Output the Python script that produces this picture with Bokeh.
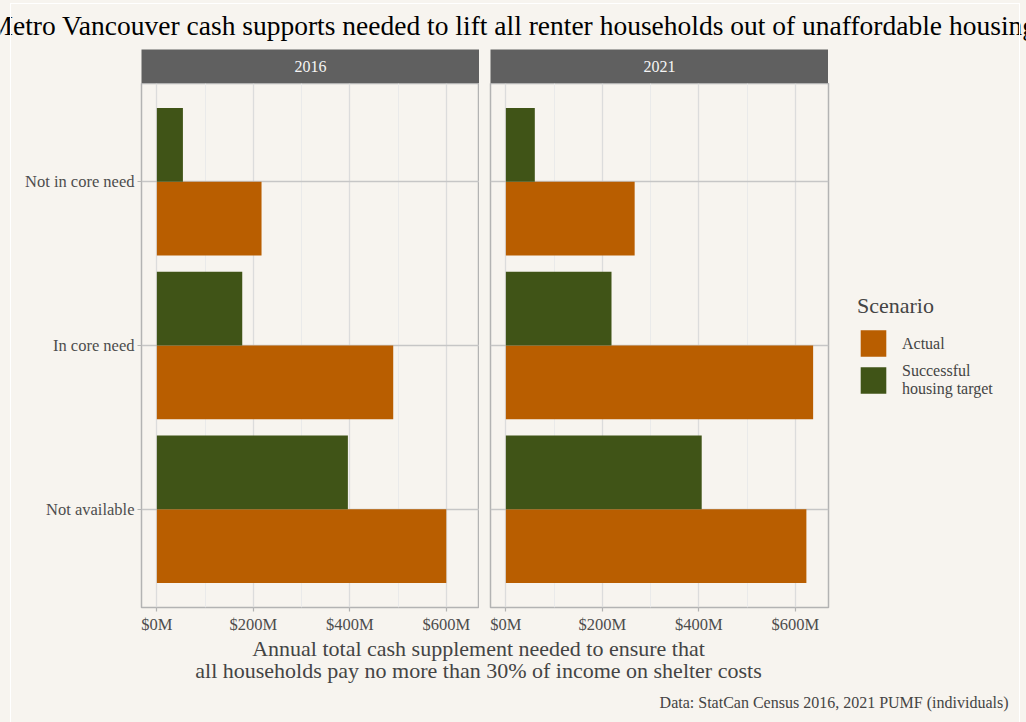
from bokeh.plotting import figure
from bokeh.models import (Range1d, FactorRange, FixedTicker, PrintfTickFormatter, Label,
                          Legend, LegendItem, Spacer, ColumnDataSource)
from bokeh.transform import dodge
from bokeh.layouts import row, column
from bokeh.embed import file_html
from bokeh.resources import INLINE

# ---------------- data ----------------
categories = ["Not available", "In core need", "Not in core need"]   # bottom -> top
years = ["2016", "2021"]
actual_2016 = [600, 490, 217]      # $M
target_2016 = [396, 177, 54]
actual_2021 = [623, 637, 267]
target_2021 = [406, 219, 60]
scenarios = ["Actual", "Successful\nhousing target"]
x_ticks = [0, 200, 400, 600]
x_minor = [100, 300, 500]

title_text = ("Metro Vancouver cash supports needed to lift all renter households "
              "out of unaffordable housing")
x_title_1 = "Annual total cash supplement needed to ensure that"
x_title_2 = "all households pay no more than 30% of income on shelter costs"
caption = "Data: StatCan Census 2016, 2021 PUMF (individuals)"

# ---------------- style ----------------
BG = "#F7F4EF"
ORANGE = "#B95E00"
GREEN = "#405417"
STRIP = "#606060"
FONT = "Liberation Serif"
TICK_GREY = "#4D4D4D"
BORDER = "#B3B3B3"

TOTAL_W = 1026
LEFT = 141
GAP = 11
FRAME_W = 338
FRAME_H = 524
BOTTOM_AX = 26

xmax = max(actual_2016 + target_2016 + actual_2021 + target_2021)
x_lo, x_hi = -0.05 * xmax, 1.05 * xmax


def blank(width, height, xr, yr):
    f = figure(width=width, height=height, x_range=Range1d(*xr), y_range=Range1d(*yr),
               x_axis_type=None, y_axis_type=None, toolbar_location=None,
               output_backend="svg", min_border=0)
    f.grid.visible = False
    f.outline_line_color = None
    f.border_fill_color = BG
    f.background_fill_color = BG
    return f


def panel(actual, target, left_border, show_y):
    src = ColumnDataSource(dict(cat=categories, actual=actual, target=target))
    p = figure(frame_width=FRAME_W, frame_height=FRAME_H, y_range=FactorRange(*categories),
               x_range=Range1d(x_lo, x_hi), toolbar_location=None, output_backend="svg",
               min_border_left=left_border, min_border_right=0,
               min_border_top=0, min_border_bottom=BOTTOM_AX)
    p.y_range.range_padding = 0.1
    p.y_range.range_padding_units = "absolute"
    p.background_fill_color = BG
    p.border_fill_color = BG
    p.outline_line_color = BORDER
    p.outline_line_width = 1.5

    ra = p.hbar(y=dodge("cat", -0.225, range=p.y_range), left=0, right="actual",
                height=0.45, source=src, fill_color=ORANGE, line_color=None)
    rt = p.hbar(y=dodge("cat", 0.225, range=p.y_range), left=0, right="target",
                height=0.45, source=src, fill_color=GREEN, line_color=None)

    xa = p.xaxis[0]
    xa.ticker = FixedTicker(ticks=x_ticks, minor_ticks=x_minor)
    xa.formatter = PrintfTickFormatter(format="$%dM")
    ya = p.yaxis[0]
    for ax in (xa, ya):
        ax.axis_line_color = None
        ax.major_tick_line_color = BORDER
        ax.major_tick_line_width = 1.2
        ax.major_tick_out = 4
        ax.major_tick_in = 0
        ax.minor_tick_line_color = None
        ax.major_label_text_font = FONT
        ax.major_label_text_font_size = "16.5px"
        ax.major_label_text_color = TICK_GREY
    xa.major_label_standoff = 3
    ya.major_label_standoff = 3
    if not show_y:
        ya.visible = False

    p.xgrid.grid_line_color = "#DCDCDC"
    p.xgrid.grid_line_width = 1.3
    p.xgrid.minor_grid_line_color = "#EAEAEA"
    p.xgrid.minor_grid_line_width = 1.0
    p.ygrid.grid_line_color = "#C6C6C6"
    p.ygrid.grid_line_width = 1.3
    return p, ra, rt


# title
T_H = 49
t_fig = blank(TOTAL_W, T_H, (0, TOTAL_W), (0, T_H))
t_fig.add_layout(Label(x=512, y=24, text=title_text, text_align="center",
                       text_baseline="alphabetic", text_font=FONT,
                       text_font_size="27.5px", text_color="black"))

# strips
S_H = 34
def strip(width, left, label):
    s = blank(width, S_H, (0, 1), (0, 1))
    s.min_border_left = left
    s.background_fill_color = STRIP
    s.add_layout(Label(x=0.5, y=0.5, text=label, text_align="center", text_baseline="middle",
                       text_font=FONT, text_font_size="16px", text_color="#F5F5F5"))
    return s

s1 = strip(LEFT + FRAME_W, LEFT, years[0])
s2 = strip(GAP + FRAME_W, GAP, years[1])
strip_row = row(s1, s2, Spacer(width=TOTAL_W - (LEFT + FRAME_W) - (GAP + FRAME_W), height=S_H))

# panels
p1, _, _ = panel(actual_2016, target_2016, LEFT, True)
p2, ra2, rt2 = panel(actual_2021, target_2021, GAP, False)

legend = Legend(items=[LegendItem(label=scenarios[0], renderers=[ra2]),
                       LegendItem(label=scenarios[1], renderers=[rt2])],
                title="Scenario", location="center_left")
legend.title_text_font = FONT
legend.title_text_font_size = "22px"
legend.title_text_font_style = "normal"
legend.title_standoff = 8
legend.label_text_font = FONT
legend.label_text_font_size = "16px"
legend.label_text_line_height = 1.05
legend.glyph_width = 32
legend.glyph_height = 33
legend.label_standoff = 13
legend.spacing = 2
legend.padding = 10
legend.margin = 29
legend.border_line_color = None
legend.background_fill_alpha = 0
p2.add_layout(legend, "right")

panel_row = row(p1, p2)

# bottom texts
B_H = 722 - T_H - S_H - (FRAME_H + BOTTOM_AX)
top_off = 637 - (T_H + S_H + FRAME_H + BOTTOM_AX)   # keep same page positions
b_fig = blank(TOTAL_W, B_H, (0, TOTAL_W), (0, B_H))
b_fig.add_layout(Label(x=478, y=B_H - 8 - top_off, text=x_title_1, text_align="center",
                       text_baseline="alphabetic", text_font=FONT, text_font_size="22px"))
b_fig.add_layout(Label(x=478, y=B_H - 30 - top_off, text=x_title_2, text_align="center",
                       text_baseline="alphabetic", text_font=FONT, text_font_size="22px"))
b_fig.add_layout(Label(x=1008, y=B_H - 62 - top_off, text=caption, text_align="right",
                       text_baseline="alphabetic", text_font=FONT, text_font_size="16px"))

layout = column(t_fig, strip_row, panel_row, b_fig)

html = file_html(layout, INLINE)
extra = ("<style>body{background:%s;}</style>" % BG)
frame_div = ('<div style="position:absolute;left:10px;top:3px;width:1008px;height:760px;'
             'border:1.5px solid #FFFFFF;pointer-events:none;z-index:10"></div>')
html = html.replace("</head>", extra + "</head>", 1)
html = html.replace("</body>", frame_div + "</body>", 1)
open("out.html", "w").write(html)
